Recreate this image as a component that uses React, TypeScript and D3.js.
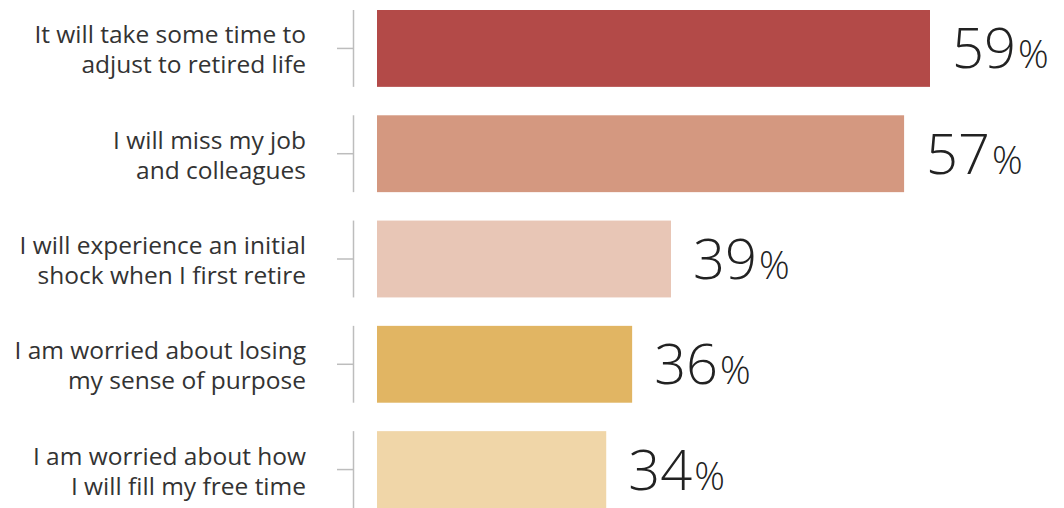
import React from "react";
import * as d3 from "d3";

const categories: string[][] = [
  ["It will take some time to", "adjust to retired life"],
  ["I will miss my job", "and colleagues"],
  ["I will experience an initial", "shock when I first retire"],
  ["I am worried about losing", "my sense of purpose"],
  ["I am worried about how", "I will fill my free time"],
];
const values: number[] = [59, 57, 39, 36, 34];
const colors: string[] = ["#b34a48", "#d49880", "#e8c6b6", "#e1b563", "#f0d6a8"];

const W = 1064;
const H = 508;

export default function App() {
  const ids = categories.map((_, i) => String(i));
  const y = d3.scaleBand<string>().domain(ids).range([10, 508]).paddingInner(0.27).paddingOuter(0);
  const x = d3.scaleLinear().domain([16.3, 59]).range([377, 930]);
  const font = "'Open Sans', 'Noto Sans', sans-serif";
  return (
    <svg width={W} height={H} style={{ position: "absolute", left: 0, top: 0, background: "#fff" }}>
      {categories.map((lines, i) => {
        const y0 = y(String(i))!;
        const bw = y.bandwidth();
        const cy = y0 + bw / 2;
        const xe = x(values[i]);
        return (
          <g key={i}>
            <line x1={353.5} x2={353.5} y1={y0} y2={y0 + bw} stroke="#bdbdbd" strokeWidth={1.5} />
            <line x1={337} x2={353.5} y1={cy} y2={cy} stroke="#bdbdbd" strokeWidth={1.5} />
            <text x={306} textAnchor="end" fontFamily={font} fontSize={24.5} fill="#333">
              <tspan x={306} y={cy - 5}>{lines[0]}</tspan>
              <tspan x={306} y={cy + 25}>{lines[1]}</tspan>
            </text>
            <rect x={x.range()[0]} y={y0} width={xe - x.range()[0]} height={bw} fill={colors[i]} />
            <text x={xe + 22} y={cy + 20} fontFamily={font} fill="#222" fontWeight={300}>
              <tspan fontSize={56}>{values[i]}</tspan>
              <tspan fontSize={38} dx={2}>%</tspan>
            </text>
          </g>
        );
      })}
    </svg>
  );
}
